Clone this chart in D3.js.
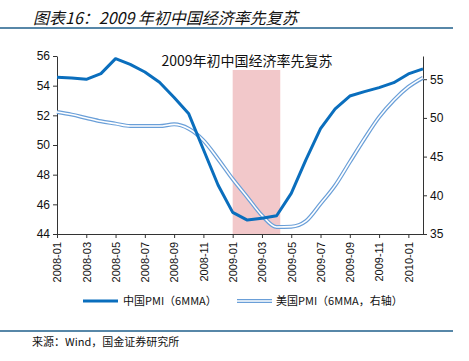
<!DOCTYPE html>
<html>
<head>
<meta charset="utf-8">
<script src="https://cdn.jsdelivr.net/npm/d3@7"></script>
<style>
  body { margin: 0; background: #fff; }
  svg { display: block; }
</style>
</head>
<body>
<svg id="chart" width="469" height="361"></svg>
<script>
// months shown on x axis
const months = ["2008-01","2008-02","2008-03","2008-04","2008-05","2008-06","2008-07","2008-08","2008-09","2008-10","2008-11","2008-12",
  "2009-01","2009-02","2009-03","2009-04","2009-05","2009-06","2009-07","2009-08","2009-09","2009-10","2009-11","2009-12",
  "2010-01","2010-02"];
// China PMI 6MMA (left axis)
const chinaPMI = [54.57, 54.52, 54.43, 54.81, 55.82, 55.44, 54.92, 54.23, 53.2, 52.1, 49.7, 47.3,
  45.46, 44.94, 45.06, 45.23, 46.74, 49.0, 51.1, 52.43, 53.3, 53.6, 53.87, 54.2, 54.79, 55.13];
// US PMI 6MMA (right axis)
const usPMI = [50.77, 50.43, 49.99, 49.56, 49.26, 48.95, 48.95, 48.95, 49.17, 48.6, 47.1, 44.7,
  42.1, 39.76, 37.4, 35.9, 35.95, 36.66, 38.9, 41.28, 44.3, 47.3, 50.1, 52.28, 54.0, 55.2];
const leftTicks = [44, 46, 48, 50, 52, 54, 56];
const rightTicks = [35, 40, 45, 50, 55];
const shadeMonths = ["2009-01", "2009-04"];

const svg = d3.select("#chart");
const margin = { top: 56, left: 57, right: 46, bottom: 127 };
const width = 469, height = 361;

// header
svg.append("text")
    .attr("x", 33).attr("y", 24)
    .style("font-family", "'Noto Sans CJK SC', sans-serif")
    .style("font-style", "italic")
    .style("font-size", "16px")
    .style("fill", "#111")
    .text("图表16：2009 年初中国经济率先复苏");
svg.append("line")
    .attr("x1", 0).attr("x2", 453).attr("y1", 28).attr("y2", 28)
    .attr("stroke", "#1f5f8b").attr("stroke-width", 1.5);

var x = d3.scalePoint()
    .domain(months)
    .range([margin.left, width - margin.right]);
var yL = d3.scaleLinear().domain([44, 56]).range([234, margin.top]);
var yR = d3.scaleLinear().domain([35, 58]).range([234, margin.top]);

// shaded period
const step = x.step();
svg.append("rect")
    .attr("x", x(shadeMonths[0]))
    .attr("y", 70)
    .attr("width", x(shadeMonths[1]) + step * 0.25 - x(shadeMonths[0]))
    .attr("height", 234 - 70)
    .attr("fill", "#f2c8ca");

// axes
const tickMonths = months.filter((d, i) => i % 2 === 0);
const gx = svg.append("g")
    .attr("transform", "translate(0,234)")
    .call(d3.axisBottom(x).tickValues(tickMonths).tickSize(4).tickSizeOuter(0));
gx.selectAll("text")
    .attr("transform", "rotate(-90)")
    .attr("text-anchor", "end")
    .attr("x", -8).attr("y", 0).attr("dy", "0.35em")
    .style("font-family", "Arial, 'Liberation Sans', sans-serif")
    .style("font-size", "11px").style("fill", "#111");

const gl = svg.append("g")
    .attr("transform", `translate(${margin.left},0)`)
    .call(d3.axisLeft(yL).tickValues(leftTicks).tickSize(4).tickSizeOuter(0));
gl.selectAll("text")
    .style("font-family", "Arial, 'Liberation Sans', sans-serif")
    .style("font-size", "12px").style("fill", "#111");

const gr = svg.append("g")
    .attr("transform", `translate(${width - margin.right},0)`)
    .call(d3.axisRight(yR).tickValues(rightTicks).tickSize(4).tickSizeOuter(0));
gr.selectAll("text")
    .style("font-family", "Arial, 'Liberation Sans', sans-serif")
    .style("font-size", "12px").style("fill", "#111");
svg.selectAll(".domain, .tick line").attr("stroke", "#333");

// US line: double stroke, smoothed
const usLine = d3.line()
    .x((d, i) => x(months[i]))
    .y(d => yR(d))
    .curve(d3.curveMonotoneX);
svg.append("path").datum(usPMI)
    .attr("d", usLine).attr("fill", "none")
    .attr("stroke", "#6a9fd8").attr("stroke-width", 4);
svg.append("path").datum(usPMI)
    .attr("d", usLine).attr("fill", "none")
    .attr("stroke", "#fff").attr("stroke-width", 1.6);

// China line
const cnLine = d3.line()
    .x((d, i) => x(months[i]))
    .y(d => yL(d));
svg.append("path").datum(chinaPMI)
    .attr("d", cnLine).attr("fill", "none")
    .attr("stroke", "#0a6ebd").attr("stroke-width", 3)
    .attr("stroke-linejoin", "round");

// inner title
svg.append("text")
    .attr("x", 247).attr("y", 66)
    .attr("text-anchor", "middle")
    .style("font-family", "'Noto Sans CJK SC', sans-serif")
    .style("font-size", "14px").style("fill", "#111")
    .text("2009年初中国经济率先复苏");

// legend
const legend = svg.append("g").style("font-family", "'Noto Sans CJK SC', sans-serif").style("font-size", "11px");
legend.append("line").attr("x1", 83).attr("x2", 118).attr("y1", 301).attr("y2", 301)
    .attr("stroke", "#0a6ebd").attr("stroke-width", 3);
legend.append("text").attr("x", 123).attr("y", 305).style("fill", "#111").text("中国PMI（6MMA）");
legend.append("line").attr("x1", 237).attr("x2", 272).attr("y1", 301).attr("y2", 301)
    .attr("stroke", "#6a9fd8").attr("stroke-width", 4);
legend.append("line").attr("x1", 237).attr("x2", 272).attr("y1", 301).attr("y2", 301)
    .attr("stroke", "#fff").attr("stroke-width", 1.6);
legend.append("text").attr("x", 276).attr("y", 305).style("fill", "#111").text("美国PMI（6MMA，右轴）");

// footer
svg.append("line")
    .attr("x1", 0).attr("x2", 453).attr("y1", 331).attr("y2", 331)
    .attr("stroke", "#1f5f8b").attr("stroke-width", 1.5);
svg.append("text")
    .attr("x", 32).attr("y", 346)
    .style("font-family", "'Noto Sans CJK SC', sans-serif")
    .style("font-size", "11px").style("fill", "#111")
    .text("来源：Wind，国金证券研究所");
</script>
</body>
</html>
